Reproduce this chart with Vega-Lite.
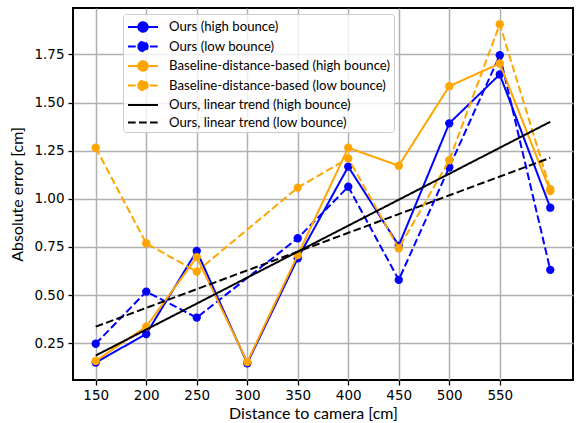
{
  "$schema": "https://vega.github.io/schema/vega-lite/v6.json",
  "width": 500,
  "height": 372,
  "autosize": {"type": "none"},
  "padding": {"left": 73, "top": 8, "right": 8, "bottom": 43},
  "background": "white",
  "config": {
    "view": {"stroke": "black", "strokeWidth": 2},
    "axis": {
      "grid": true,
      "gridColor": "#b0b0b0",
      "gridWidth": 1.5,
      "domain": false,
      "tickColor": "black",
      "tickSize": 5,
      "tickWidth": 1.3,
      "labelFont": "DejaVu Sans",
      "labelFontSize": 13.5,
      "labelColor": "black",
      "labelFlush": false,
      "titleFont": "Lato",
      "titleFontSize": 16,
      "titleFontWeight": "normal",
      "titleColor": "black"
    }
  },
  "data": {
    "values": [
      {"series": "Ours (high bounce)", "x": 150, "y": 0.150},
      {"series": "Ours (high bounce)", "x": 200, "y": 0.298},
      {"series": "Ours (high bounce)", "x": 250, "y": 0.729},
      {"series": "Ours (high bounce)", "x": 300, "y": 0.146},
      {"series": "Ours (high bounce)", "x": 350, "y": 0.691},
      {"series": "Ours (high bounce)", "x": 400, "y": 1.167},
      {"series": "Ours (high bounce)", "x": 450, "y": 0.757},
      {"series": "Ours (high bounce)", "x": 500, "y": 1.392},
      {"series": "Ours (high bounce)", "x": 550, "y": 1.646},
      {"series": "Ours (high bounce)", "x": 600, "y": 0.954},
      {"series": "Ours (low bounce)", "x": 150, "y": 0.247},
      {"series": "Ours (low bounce)", "x": 200, "y": 0.518},
      {"series": "Ours (low bounce)", "x": 250, "y": 0.383},
      {"series": "Ours (low bounce)", "x": 350, "y": 0.795},
      {"series": "Ours (low bounce)", "x": 400, "y": 1.063},
      {"series": "Ours (low bounce)", "x": 450, "y": 0.579},
      {"series": "Ours (low bounce)", "x": 500, "y": 1.164},
      {"series": "Ours (low bounce)", "x": 550, "y": 1.746},
      {"series": "Ours (low bounce)", "x": 600, "y": 0.631},
      {"series": "Baseline-distance-based (high bounce)", "x": 150, "y": 0.158},
      {"series": "Baseline-distance-based (high bounce)", "x": 200, "y": 0.336},
      {"series": "Baseline-distance-based (high bounce)", "x": 250, "y": 0.697},
      {"series": "Baseline-distance-based (high bounce)", "x": 300, "y": 0.152},
      {"series": "Baseline-distance-based (high bounce)", "x": 350, "y": 0.708},
      {"series": "Baseline-distance-based (high bounce)", "x": 400, "y": 1.265},
      {"series": "Baseline-distance-based (high bounce)", "x": 450, "y": 1.172},
      {"series": "Baseline-distance-based (high bounce)", "x": 500, "y": 1.585},
      {"series": "Baseline-distance-based (high bounce)", "x": 550, "y": 1.703},
      {"series": "Baseline-distance-based (high bounce)", "x": 600, "y": 1.040},
      {"series": "Baseline-distance-based (low bounce)", "x": 150, "y": 1.265},
      {"series": "Baseline-distance-based (low bounce)", "x": 200, "y": 0.769},
      {"series": "Baseline-distance-based (low bounce)", "x": 250, "y": 0.622},
      {"series": "Baseline-distance-based (low bounce)", "x": 350, "y": 1.058},
      {"series": "Baseline-distance-based (low bounce)", "x": 400, "y": 1.210},
      {"series": "Baseline-distance-based (low bounce)", "x": 450, "y": 0.743},
      {"series": "Baseline-distance-based (low bounce)", "x": 500, "y": 1.200},
      {"series": "Baseline-distance-based (low bounce)", "x": 550, "y": 1.907},
      {"series": "Baseline-distance-based (low bounce)", "x": 600, "y": 1.050},
      {"series": "Ours, linear trend (high bounce)", "x": 150, "y": 0.186},
      {"series": "Ours, linear trend (high bounce)", "x": 600, "y": 1.400},
      {"series": "Ours, linear trend (low bounce)", "x": 150, "y": 0.336},
      {"series": "Ours, linear trend (low bounce)", "x": 600, "y": 1.213}
    ]
  },
  "encoding": {
    "x": {
      "field": "x",
      "type": "quantitative",
      "scale": {"domain": [127.5, 622.5], "nice": false, "zero": false},
      "axis": {
        "values": [150, 200, 250, 300, 350, 400, 450, 500, 550],
        "title": "Distance to camera [cm]",
        "labelPadding": 3,
        "titlePadding": 4,
        "titleX": 240,
        "titleAlign": "center"
      }
    },
    "y": {
      "field": "y",
      "type": "quantitative",
      "scale": {"domain": [0.059, 1.991], "nice": false, "zero": false},
      "axis": {
        "values": [0.25, 0.5, 0.75, 1.0, 1.25, 1.5, 1.75],
        "format": ".2f",
        "title": "Absolute error [cm]",
        "labelPadding": 4,
        "titlePadding": 8
      }
    },
    "color": {
      "field": "series",
      "type": "nominal",
      "scale": {
        "domain": [
          "Ours (high bounce)",
          "Ours (low bounce)",
          "Baseline-distance-based (high bounce)",
          "Baseline-distance-based (low bounce)",
          "Ours, linear trend (high bounce)",
          "Ours, linear trend (low bounce)"
        ],
        "range": ["#0000ff", "#0000ff", "#ffa500", "#ffa500", "#000000", "#000000"]
      },
      "legend": {
        "title": null,
        "orient": "none",
        "legendX": 50,
        "legendY": 6,
        "symbolSize": 324,
        "symbolStrokeWidth": 2,
        "symbolOffset": 7,
        "labelOffset": 16,
        "labelFont": "Lato",
        "labelFontSize": 13.2,
        "labelColor": "black",
        "labelLimit": 400,
        "padding": 3,
        "rowPadding": 0.5,
        "fillColor": "rgba(255,255,255,0.8)",
        "strokeColor": "#cccccc",
        "cornerRadius": 3,
        "encode": {
          "symbols": {
            "update": {
              "shape": {"signal": "indexof(datum.value, 'trend') >= 0 ? 'M-1.667,0L1.667,0' : 'M-1.667,0L1.667,0M-0.522,0A0.522,0.522,0,1,0,0.522,0A0.522,0.522,0,1,0,-0.522,0'"},
              "stroke": {"signal": "scale('color', datum.value)"},
              "fill": {"signal": "scale('color', datum.value)"},
              "strokeDash": {"signal": "scale('strokeDash', datum.value)"},
              "opacity": {"value": 1},
              "fillOpacity": {"value": 1},
              "strokeWidth": {"value": 2}
            }
          }
        }
      }
    }
  },
  "layer": [
    {
      "transform": [{"filter": "datum.series === 'Ours (high bounce)'"}],
      "mark": {"type": "line", "strokeWidth": 2},
      "encoding": {"strokeDash": {"field": "series", "type": "nominal", "legend": null, "scale": {"domain": ["Ours (high bounce)", "Ours (low bounce)", "Baseline-distance-based (high bounce)", "Baseline-distance-based (low bounce)", "Ours, linear trend (high bounce)", "Ours, linear trend (low bounce)"], "range": [[1, 0], [7.7, 3.3], [1, 0], [7.7, 3.3], [1, 0], [7.7, 3.3]]}}}
    },
    {
      "transform": [{"filter": "datum.series === 'Ours (high bounce)'"}],
      "mark": {"type": "point", "filled": true, "size": 70, "opacity": 1}
    },
    {
      "transform": [{"filter": "datum.series === 'Ours (low bounce)'"}],
      "mark": {"type": "line", "strokeWidth": 2},
      "encoding": {"strokeDash": {"field": "series", "type": "nominal", "legend": null}}
    },
    {
      "transform": [{"filter": "datum.series === 'Ours (low bounce)'"}],
      "mark": {"type": "point", "filled": true, "size": 70, "opacity": 1}
    },
    {
      "transform": [{"filter": "datum.series === 'Baseline-distance-based (high bounce)'"}],
      "mark": {"type": "line", "strokeWidth": 2},
      "encoding": {"strokeDash": {"field": "series", "type": "nominal", "legend": null}}
    },
    {
      "transform": [{"filter": "datum.series === 'Baseline-distance-based (high bounce)'"}],
      "mark": {"type": "point", "filled": true, "size": 70, "opacity": 1}
    },
    {
      "transform": [{"filter": "datum.series === 'Baseline-distance-based (low bounce)'"}],
      "mark": {"type": "line", "strokeWidth": 2},
      "encoding": {"strokeDash": {"field": "series", "type": "nominal", "legend": null}}
    },
    {
      "transform": [{"filter": "datum.series === 'Baseline-distance-based (low bounce)'"}],
      "mark": {"type": "point", "filled": true, "size": 70, "opacity": 1}
    },
    {
      "transform": [{"filter": "indexof(datum.series, 'trend') >= 0"}],
      "mark": {"type": "line", "strokeWidth": 2},
      "encoding": {"strokeDash": {"field": "series", "type": "nominal", "legend": null}}
    }
  ]
}
